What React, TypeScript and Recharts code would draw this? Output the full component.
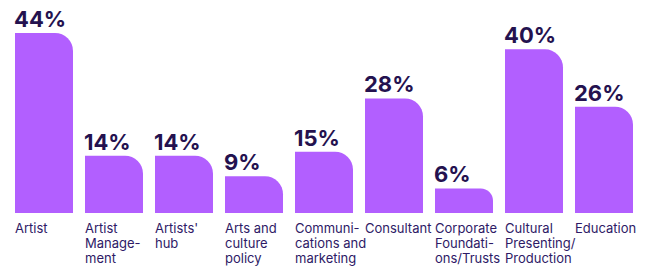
import { Bar, BarChart, LabelList, XAxis, YAxis } from 'recharts';

const categories = [
  'Artist',
  'Artist Management',
  "Artists' hub",
  'Arts and culture policy',
  'Communications and marketing',
  'Consultant',
  'Corporate Foundations/Trusts',
  'Cultural Presenting/Production',
  'Education',
];

// how each category label is broken in the picture
const categoryLines = [
  ['Artist'],
  ['Artist', 'Manage-', 'ment'],
  ["Artists'", 'hub'],
  ['Arts and', 'culture', 'policy'],
  ['Communi-', 'cations and', 'marketing'],
  ['Consultant'],
  ['Corporate', 'Foundati-', 'ons/Trusts'],
  ['Cultural', 'Presenting/', 'Production'],
  ['Education'],
];

const shares = [44, 14, 14, 9, 15, 28, 6, 40, 26];

const BAR_COLOR = '#B25FFF';
const TEXT_COLOR = '#24124F';
const TICK_COLOR = '#2E1A66';
const FONT = 'Inter, "Noto Sans", sans-serif';

const data = categories.map((name, i) => ({ name, share: shares[i] }));

function CategoryTick(props: any) {
  const { x, y, index } = props;
  const lines = categoryLines[index] ?? [];
  return (
    <text x={x - 29} y={y} fill={TICK_COLOR} fontFamily={FONT} fontSize={13} textAnchor="start">
      {lines.map((line, i) => (
        <tspan key={i} x={x - 29} dy={i === 0 ? 20 : 15}>
          {line}
        </tspan>
      ))}
    </text>
  );
}

function ValueLabel(props: any) {
  const { x, y, value } = props;
  return (
    <text x={x - 1} y={y - 6} fill={TEXT_COLOR} fontFamily={FONT} fontSize={22} fontWeight={700} textAnchor="start">
      {`${value}%`}
    </text>
  );
}

export default function App() {
  return (
    <div style={{ width: 646, height: 268, background: '#fff' }}>
      <style>{'body{margin:0}'}</style>
      <BarChart width={646} height={268} data={data} margin={{ top: 33, right: 7, bottom: 0, left: 9 }}>
        <XAxis
          dataKey="name"
          interval={0}
          axisLine={false}
          tickLine={false}
          tickSize={0}
          tickMargin={0}
          height={55}
          tick={<CategoryTick />}
        />
        <YAxis hide domain={[0, 44]} />
        <Bar dataKey="share" fill={BAR_COLOR} barSize={58} radius={[0, 18, 0, 0]} isAnimationActive={false}>
          <LabelList dataKey="share" content={<ValueLabel />} />
        </Bar>
      </BarChart>
    </div>
  );
}
